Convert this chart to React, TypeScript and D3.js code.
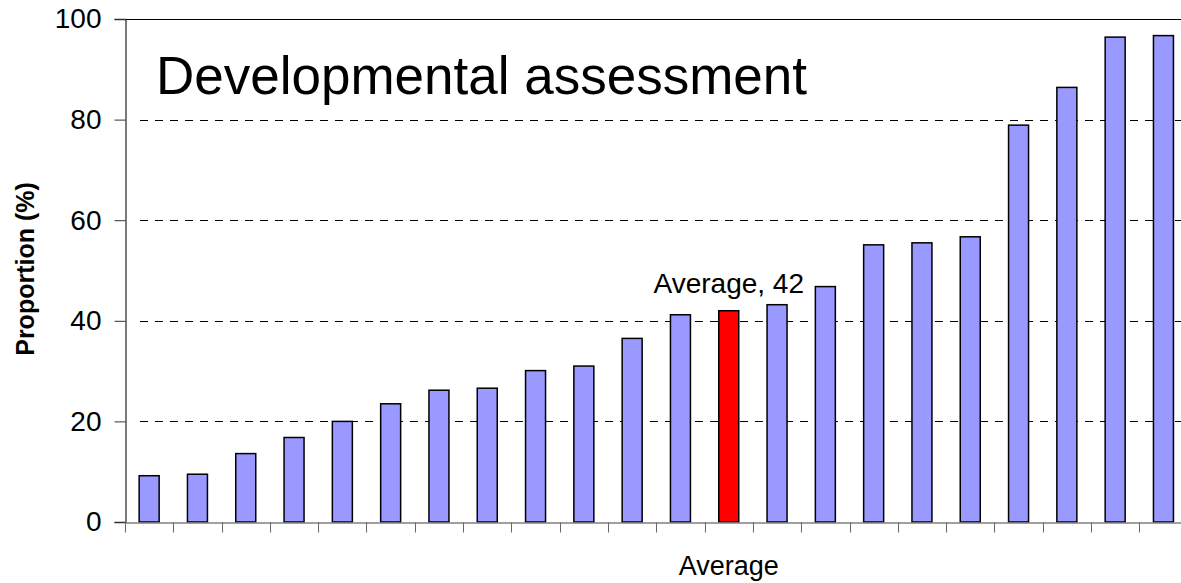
import React, { useRef, useEffect } from 'react';
import { select, scaleBand, scaleLinear, axisLeft, axisBottom } from 'd3';

// proportions, sorted ascending
const categories = ['1', '2', '3', '4', '5', '6', '7', '8', '9', '10', '11', 'Average', '13', '14', '15', '16', '17', '18', '19', '20', '21', '22'];
const proportions = [9.2, 9.5, 13.6, 16.8, 20.0, 23.5, 26.2, 26.6, 30.1, 31.0, 36.5, 41.2, 42.0, 43.2, 46.8, 55.1, 55.5, 56.7, 78.9, 86.4, 96.4, 96.7];
const yTicks = [0, 20, 40, 60, 80, 100];
const gridTicks = [20, 40, 60, 80];
const averageIndex = 12;
const averageLabel = 'Average, 42';

const FONT = '"Liberation Sans", Arial, sans-serif';

function App() {
    const svgRef = useRef(null);

    useEffect(() => {
        const svg = select(svgRef.current);
        svg.selectAll('*').remove();

        const left = 125, right = 1187.6, top = 19, bottom = 522;

        const xScale = scaleBand()
            .domain(categories.map((c, i) => i))
            .range([left, right])
            .paddingInner(0.586)
            .paddingOuter(0.293);

        const yScale = scaleLinear()
            .domain([0, 100])
            .range([bottom, top]);

        // dashed gridlines
        svg.append('g')
            .selectAll('line')
            .data(gridTicks)
            .join('line')
            .attr('x1', left + 15)
            .attr('x2', right)
            .attr('y1', d => Math.round(yScale(d)) + 0.5)
            .attr('y2', d => Math.round(yScale(d)) + 0.5)
            .attr('stroke', '#000')
            .attr('stroke-dasharray', '8,7');

        // solid line at 100
        svg.append('line')
            .attr('x1', left)
            .attr('x2', right)
            .attr('y1', yScale(100) + 0.5)
            .attr('y2', yScale(100) + 0.5)
            .attr('stroke', '#000');

        // bars
        svg.append('g')
            .selectAll('rect')
            .data(proportions)
            .join('rect')
            .attr('x', (v, i) => xScale(i))
            .attr('y', v => yScale(v))
            .attr('width', xScale.bandwidth())
            .attr('height', v => bottom - yScale(v))
            .attr('fill', (v, i) => i === averageIndex ? '#ff0000' : '#9999ff')
            .attr('stroke', '#000')
            .attr('stroke-width', 1.5);

        // y axis
        const yAxis = axisLeft(yScale).tickValues(yTicks).tickSize(11).tickPadding(13);
        const gy = svg.append('g')
            .attr('transform', `translate(${left + 0.5},0)`)
            .call(yAxis);
        gy.select('.domain').attr('stroke', '#333').attr('stroke-width', 1.3);
        gy.selectAll('.tick line').attr('stroke', '#333');
        gy.selectAll('.tick text')
            .attr('font-family', FONT)
            .attr('font-size', 28)
            .attr('fill', '#000');

        // x axis: ticks between categories, no labels
        const xAxis = axisBottom(xScale).tickSize(0).tickFormat(() => '');
        const gx = svg.append('g')
            .attr('transform', `translate(0,${bottom + 0.5})`)
            .call(xAxis);
        gx.select('.domain').attr('stroke', '#808080').attr('stroke-width', 1.3);
        gx.append('g')
            .selectAll('line')
            .data(categories.map((c, i) => i))
            .join('line')
            .attr('x1', i => Math.round(xScale(i) - xScale.step() * xScale.paddingInner() / 2) + 0.5)
            .attr('x2', i => Math.round(xScale(i) - xScale.step() * xScale.paddingInner() / 2) + 0.5)
            .attr('y1', 0)
            .attr('y2', 10)
            .attr('stroke', '#666');

        // average label over the red bar
        const avgX = xScale(averageIndex) + xScale.bandwidth() / 2;
        svg.append('text')
            .attr('x', avgX)
            .attr('y', yScale(proportions[averageIndex]) - 18)
            .attr('text-anchor', 'middle')
            .attr('font-family', FONT)
            .attr('font-size', 28)
            .text(averageLabel);

        // title inside plot
        svg.append('text')
            .attr('x', 156)
            .attr('y', 94)
            .attr('font-family', FONT)
            .attr('font-size', 53)
            .text('Developmental assessment');

        // axis titles
        svg.append('text')
            .attr('x', avgX)
            .attr('y', 575)
            .attr('text-anchor', 'middle')
            .attr('font-family', FONT)
            .attr('font-size', 27)
            .text('Average');

        svg.append('text')
            .attr('transform', 'translate(34,269) rotate(-90)')
            .attr('text-anchor', 'middle')
            .attr('font-family', FONT)
            .attr('font-size', 25)
            .attr('font-weight', 'bold')
            .text('Proportion (%)');
    }, []);

    return (
        <svg
            ref={svgRef}
            width={1181}
            height={583}
            style={{ position: 'absolute', left: 0, top: 0, background: '#fff', overflow: 'hidden' }}
        />
    );
}

export default App;
